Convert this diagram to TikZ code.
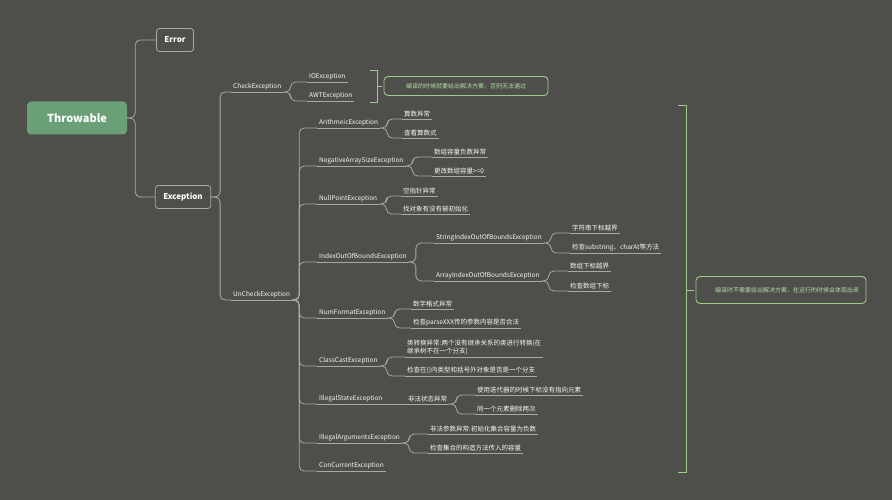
\documentclass[tikz,border=0pt]{standalone}
\usepackage{fontspec}
\setmainfont{Noto Sans CJK SC}
\definecolor{bg}{HTML}{4E4F4B}
\definecolor{ln}{HTML}{A8A8A4}
\definecolor{gr}{HTML}{9CCB8C}
\definecolor{gt}{HTML}{B4DDA6}
\definecolor{tf}{HTML}{6A9F77}
\begin{document}
\begin{tikzpicture}[x=1pt,y=-1pt,
 lin/.style={draw=ln,line width=0.8pt,rounded corners=5},
 ul/.style={anchor=south west,inner sep=2pt,text=black!3,font=\fontsize{6.5}{8}\selectfont,align=left,
   append after command={(\tikzlastnode.south west) edge[lin,rounded corners=0] (\tikzlastnode.south east)}},
 bx/.style={draw=ln,line width=0.8pt,rounded corners=3,text=white,font=\bfseries\fontsize{8}{10}\selectfont,minimum height=23,inner xsep=8pt},
 gb/.style={draw=gr,line width=0.9pt,rounded corners=4,text=gt,font=\fontsize{6}{8}\selectfont,align=center}]
\fill[bg] (0,0) rectangle (892,500);
\node[fill=tf,rounded corners=4,text=white,font=\bfseries\fontsize{11}{13}\selectfont,minimum width=100,minimum height=33] (T) at (77,118) {Throwable};
\node[bx] (E) at (175,40) {Error};
\node[bx] (X) at (183,197) {Exception};
\draw[lin] (T.east) -- ++(8,0) |- (E.west);
\draw[lin] (T.east) -- ++(8,0) |- (X.west);
\newcommand\conn[2]{\draw[lin] (#1.south east) -- ++(7,0) |- (#2.south west);}
\node[ul] (C) at (231,92) {CheckException};
\node[ul] (U) at (231,300) {UnCheckException};
\draw[lin] (X.east) -- ++(9,0) |- (C.south west);
\draw[lin] (X.east) -- ++(9,0) |- (U.south west);
\node[ul] (io) at (307,82) {IOException};
\node[ul] (awt) at (307,101) {AWTException};
\conn{C}{io}\conn{C}{awt}
\draw[lin,draw=gr,rounded corners=0] (370,70) -- (377,70) -- (377,102) -- (370,102) (377,86) -- (382,86);
\node[gb,minimum width=164,minimum height=19] (g1) at (466,86) {编译的时候就要给出解决方案，否则无法通过};
\node[ul] (a1) at (317,128) {ArithmeicException};
\node[ul] (a2) at (317,166) {NegativeArraySizeException};
\node[ul] (a3) at (317,204) {NullPointException};
\node[ul] (a4) at (317,262) {IndexOutOfBoundsException};
\node[ul] (a5) at (317,318) {NumFormatException};
\node[ul] (a6) at (317,366) {ClassCastException};
\node[ul] (a7) at (317,404) {IllegalStateException};
\node[ul] (a8) at (317,443) {IllegalArgumentsException};
\node[ul] (a9) at (317,471) {ConCurrentException};
\foreach \n in {a1,a2,a3,a4,a5,a6,a7,a8,a9}{\draw[lin] (U.south east) -- ++(7,0) |- (\n.south west);}
\node[ul] (b1) at (402,119) {算数异常};
\node[ul] (b2) at (402,138) {查看算数式};
\conn{a1}{b1}\conn{a1}{b2}
\node[ul] (c1) at (432,157) {数组容量负数异常};
\node[ul] (c2) at (432,176) {更改数组容量>=0};
\conn{a2}{c1}\conn{a2}{c2}
\node[ul] (d1) at (401,196) {空指针异常};
\node[ul] (d2) at (401,214) {找对象有没有被初始化};
\conn{a3}{d1}\conn{a3}{d2}
\node[ul] (e1) at (434,243) {StringIndexOutOfBoundsException};
\node[ul] (e2) at (434,281) {ArrayIndexOutOfBoundsException};
\conn{a4}{e1}\conn{a4}{e2}
\node[ul] (f1) at (570,233) {字符串下标越界};
\node[ul] (f2) at (570,253) {检查substring、charAt等方法};
\conn{e1}{f1}\conn{e1}{f2}
\node[ul] (h1) at (568,271) {数组下标越界};
\node[ul] (h2) at (568,291) {检查数组下标};
\conn{e2}{h1}\conn{e2}{h2}
\node[ul] (i1) at (411,309) {数字格式异常};
\node[ul] (i2) at (411,328) {检查parseXXX传的参数内容是否合法};
\conn{a5}{i1}\conn{a5}{i2}
\node[ul] (j1) at (405,357) {类转换异常:两个没有继承关系的类进行转换(在\\继承树不在一个分支)};
\node[ul] (j2) at (405,376) {检查在()内类型和括号外对象是否是一个分支};
\conn{a6}{j1}\conn{a6}{j2}
\node[ul] (k0) at (406,404) {非法状态异常};
\draw[lin] (a7.south east) -- (k0.south west);
\node[ul] (k1) at (475,395) {使用迭代器的时候下标没有指向元素};
\node[ul] (k2) at (475,414) {同一个元素删除两次};
\conn{k0}{k1}\conn{k0}{k2}
\node[ul] (l1) at (428,434) {非法参数异常:初始化集合容量为负数};
\node[ul] (l2) at (428,453) {检查集合的构造方法传入的容量};
\conn{a8}{l1}\conn{a8}{l2}
\draw[lin,draw=gr,rounded corners=0] (678,105) -- (686,105) -- (686,472) -- (678,472) (686,290) -- (694,290);
\node[gb,text width=132,minimum width=170,minimum height=27] (g2) at (781,290) {编译时不需要给出解决方案，在运行的时候会体现出来};
\end{tikzpicture}
\end{document}
